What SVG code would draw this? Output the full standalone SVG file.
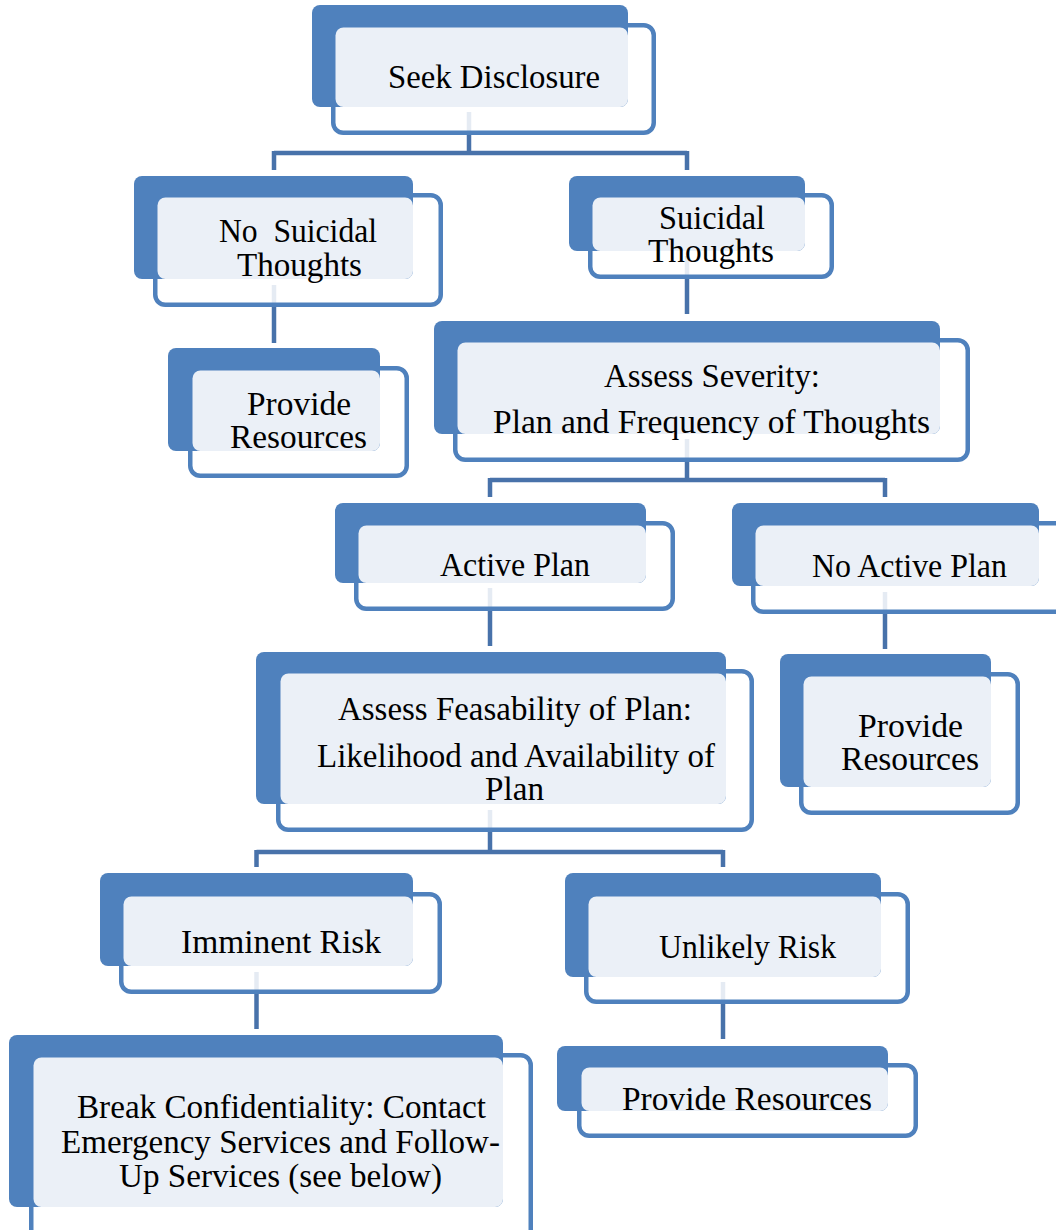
<svg xmlns="http://www.w3.org/2000/svg" width="1056" height="1230" viewBox="0 0 1056 1230">
<style>
.bg{fill:#ffffff}
.back{fill:#4F81BD}
.front{fill:#ffffff;fill-opacity:0.86;stroke:#4F81BD;stroke-width:4.5}
.light{fill:#EBF0F7}
.con{stroke:#4872AA;stroke-width:4.5;fill:none;stroke-linecap:butt}
.t{font-family:"Liberation Serif","Times New Roman",serif;font-size:33px;fill:#000000}
</style>
<rect class="bg" x="0" y="0" width="1056" height="1230"/>
<g id="connectors">
<path class="con" d="M469,112 V153 M274,153 H687 M274,151 V170 M687,151 V170"/>
<path class="con" d="M274,285 V343"/>
<path class="con" d="M687,256 V314"/>
<path class="con" d="M687,439 V480 M490,480 H885 M490,478 V497 M885,478 V497"/>
<path class="con" d="M490,588 V646"/>
<path class="con" d="M885,592 V649"/>
<path class="con" d="M490,810 V852 M256.5,852 H723 M256.5,850 V867 M723,850 V867"/>
<path class="con" d="M256.5,972 V1029"/>
<path class="con" d="M723,982 V1039"/>
</g>
<g id="n-seek">
<rect class="front" x="333.25" y="25.25" width="320.5" height="107.5" rx="10"/>
<rect class="back" x="312" y="5" width="316" height="102" rx="8"/>
<rect class="light" x="335.5" y="27.5" width="292.5" height="79.5" rx="8"/>
<text class="t" x="388" y="88" textLength="212" lengthAdjust="spacingAndGlyphs">Seek Disclosure</text>
</g>
<g id="n-nosuicidal">
<rect class="front" x="155.25" y="195.25" width="285.5" height="109.5" rx="10"/>
<rect class="back" x="134" y="176" width="279" height="103" rx="8"/>
<rect class="light" x="157.5" y="197.5" width="255.5" height="81.5" rx="8"/>
<text class="t" x="219" y="242" textLength="158" lengthAdjust="spacingAndGlyphs" xml:space="preserve">No  Suicidal</text>
<text class="t" x="237" y="276" textLength="125" lengthAdjust="spacingAndGlyphs">Thoughts</text>
</g>
<g id="n-provide-left">
<rect class="front" x="190.25" y="368.25" width="216.5" height="107.5" rx="10"/>
<rect class="back" x="168" y="348" width="212" height="103" rx="8"/>
<rect class="light" x="192.5" y="370.5" width="187.5" height="80.5" rx="8"/>
<text class="t" x="247" y="415" textLength="104" lengthAdjust="spacingAndGlyphs">Provide</text>
<text class="t" x="230" y="448" textLength="137" lengthAdjust="spacingAndGlyphs">Resources</text>
</g>
<g id="n-suicidal">
<rect class="front" x="590.25" y="195.25" width="241.5" height="81.5" rx="10"/>
<rect class="back" x="569" y="176" width="236" height="75" rx="8"/>
<rect class="light" x="592.5" y="197.5" width="212.5" height="53.5" rx="8"/>
<text class="t" x="659" y="229" textLength="106" lengthAdjust="spacingAndGlyphs">Suicidal</text>
<text class="t" x="648" y="262" textLength="126" lengthAdjust="spacingAndGlyphs">Thoughts</text>
</g>
<g id="n-severity">
<rect class="front" x="455.25" y="340.25" width="512.5" height="119.5" rx="10"/>
<rect class="back" x="434" y="321" width="506" height="113" rx="8"/>
<rect class="light" x="457.5" y="342.5" width="482.5" height="91.5" rx="8"/>
<text class="t" x="604" y="387" textLength="216" lengthAdjust="spacingAndGlyphs">Assess Severity:</text>
<text class="t" x="493" y="433" textLength="437" lengthAdjust="spacingAndGlyphs">Plan and Frequency of Thoughts</text>
</g>
<g id="n-active">
<rect class="front" x="356.25" y="523.25" width="316.5" height="85.5" rx="10"/>
<rect class="back" x="335" y="503" width="311" height="80" rx="8"/>
<rect class="light" x="358.5" y="525.5" width="287.5" height="57.5" rx="8"/>
<text class="t" x="440" y="576" textLength="150" lengthAdjust="spacingAndGlyphs">Active Plan</text>
</g>
<g id="n-noactive">
<rect class="front" x="753.25" y="523.25" width="320" height="88.5" rx="10"/>
<rect class="back" x="732" y="503" width="307" height="83" rx="8"/>
<rect class="light" x="755.5" y="525.5" width="283.5" height="60.5" rx="8"/>
<text class="t" x="812" y="577" textLength="195" lengthAdjust="spacingAndGlyphs">No Active Plan</text>
</g>
<g id="n-feasability">
<rect class="front" x="278.25" y="671.25" width="473.5" height="158.5" rx="10"/>
<rect class="back" x="256" y="652" width="470" height="152" rx="8"/>
<rect class="light" x="280.5" y="673.5" width="445.5" height="130.5" rx="8"/>
<text class="t" x="338" y="720" textLength="354" lengthAdjust="spacingAndGlyphs">Assess Feasability of Plan:</text>
<text class="t" x="317" y="767" textLength="398" lengthAdjust="spacingAndGlyphs">Likelihood and Availability of</text>
<text class="t" x="485" y="800" textLength="59" lengthAdjust="spacingAndGlyphs">Plan</text>
</g>
<g id="n-provide-right">
<rect class="front" x="801.25" y="674.25" width="216.5" height="138.5" rx="10"/>
<rect class="back" x="780" y="654" width="211" height="133" rx="8"/>
<rect class="light" x="803.5" y="676.5" width="187.5" height="110.5" rx="8"/>
<text class="t" x="858" y="737" textLength="105" lengthAdjust="spacingAndGlyphs">Provide</text>
<text class="t" x="841" y="770" textLength="138" lengthAdjust="spacingAndGlyphs">Resources</text>
</g>
<g id="n-imminent">
<rect class="front" x="121.25" y="894.25" width="318.5" height="97.5" rx="10"/>
<rect class="back" x="100" y="873" width="313" height="93" rx="8"/>
<rect class="light" x="123.5" y="896.5" width="289.5" height="69.5" rx="8"/>
<text class="t" x="181" y="953" textLength="200" lengthAdjust="spacingAndGlyphs">Imminent Risk</text>
</g>
<g id="n-unlikely">
<rect class="front" x="586.25" y="894.25" width="321.5" height="107.5" rx="10"/>
<rect class="back" x="565" y="873" width="316" height="104" rx="8"/>
<rect class="light" x="588.5" y="896.5" width="292.5" height="80.5" rx="8"/>
<text class="t" x="659" y="958" textLength="177" lengthAdjust="spacingAndGlyphs">Unlikely Risk</text>
</g>
<g id="n-break">
<rect class="front" x="31.25" y="1055.25" width="499.5" height="195" rx="10"/>
<rect class="back" x="9" y="1035" width="494" height="172" rx="8"/>
<rect class="light" x="33.5" y="1057.5" width="469.5" height="149.5" rx="8"/>
<text class="t" x="77" y="1118" textLength="409" lengthAdjust="spacingAndGlyphs">Break Confidentiality: Contact</text>
<text class="t" x="61" y="1153" textLength="439" lengthAdjust="spacingAndGlyphs">Emergency Services and Follow-</text>
<text class="t" x="119" y="1187" textLength="323" lengthAdjust="spacingAndGlyphs">Up Services (see below)</text>
</g>
<g id="n-provide-bottom">
<rect class="front" x="579.25" y="1065.25" width="336.5" height="70.5" rx="10"/>
<rect class="back" x="557" y="1046" width="331" height="65" rx="8"/>
<rect class="light" x="581.5" y="1067.5" width="306.5" height="43.5" rx="8"/>
<text class="t" x="622" y="1110" textLength="250" lengthAdjust="spacingAndGlyphs">Provide Resources</text>
</g>
</svg>
